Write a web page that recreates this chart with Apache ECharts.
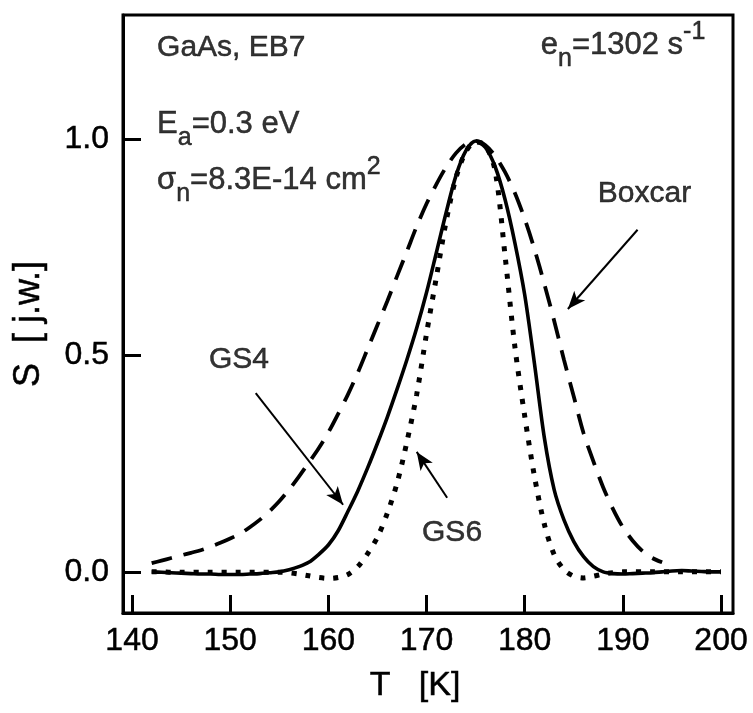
<!DOCTYPE html>
<html>
<head>
<meta charset="utf-8">
<script src="https://cdn.jsdelivr.net/npm/echarts@6/dist/echarts.min.js"></script>
<style>
html,body{margin:0;padding:0;background:#fff;}
#chart{width:753px;height:713px;}
</style>
</head>
<body>
<div id="chart"></div>
<script>
// ---- data ----
const xTicks = [140, 150, 160, 170, 180, 190, 200];
const yTicks = [0, 0.5, 1.0];

const boxcarT = [142,143,144,145,146,147,148,149,150,151,152,153,154,155,156,157,158,159,160,161,162,163,164,165,166,167,168,169,170,171,172,173,174,175,176,177,178,179,180,181,182,183,184,185,186,187,188,189,190,191,192,193,194];
const boxcarS = [0.02,0.026,0.032,0.038,0.044,0.05,0.058,0.067,0.077,0.088,0.103,0.12,0.14,0.163,0.19,0.22,0.252,0.285,0.322,0.365,0.41,0.46,0.515,0.57,0.625,0.683,0.74,0.798,0.85,0.895,0.935,0.967,0.988,0.995,0.985,0.96,0.923,0.875,0.815,0.745,0.665,0.58,0.49,0.405,0.32,0.255,0.195,0.145,0.103,0.072,0.048,0.032,0.022];

const gs4T = [142,143,144,145,146,147,148,149,150,151,152,153,154,155,156,157,158,159,160,161,162,163,164,165,166,167,168,169,170,171,172,173,174,175,176,177,178,179,180,181,182,183,184,185,186,187,188,189,190,191,192,193,194,195,196,197,198,199,200];
const gs4S = [0.0,-0.001,-0.002,-0.003,-0.004,-0.005,-0.005,-0.006,-0.006,-0.006,-0.005,-0.004,-0.002,0.0,0.005,0.012,0.022,0.04,0.062,0.095,0.14,0.187,0.24,0.297,0.357,0.422,0.49,0.563,0.645,0.737,0.83,0.915,0.972,0.995,0.98,0.935,0.86,0.76,0.64,0.48,0.31,0.19,0.12,0.07,0.035,0.012,0.0,-0.004,-0.005,-0.004,-0.003,-0.002,0.0,0.002,0.003,0.002,0.001,0.0,0.0];

const gs6T = [142,143,144,145,146,147,148,149,150,151,152,153,154,155,156,157,158,159,160,161,162,163,164,165,166,167,168,169,170,171,172,173,174,175,176,177,178,179,180,181,182,183,184,185,186,187,188,189,190,191,192,193,194,195,196,197,198,199,200];
const gs6S = [0.0,0.0,-0.001,-0.001,-0.001,-0.001,-0.001,-0.001,-0.001,-0.001,-0.001,-0.001,-0.001,-0.001,-0.002,-0.005,-0.009,-0.013,-0.015,-0.013,-0.006,0.012,0.042,0.08,0.135,0.205,0.3,0.41,0.55,0.68,0.81,0.91,0.97,0.993,0.985,0.925,0.73,0.52,0.36,0.22,0.11,0.04,0.005,-0.01,-0.014,-0.01,-0.005,-0.002,0.0,0.0,0.0,0.0,0.0,0.0,0.0,0.0,0.0,0.0,0.0];

// annotation texts and anchors (data coordinates)
const noteTexts = ['GaAs, EB7', 'en=1302 s-1', 'Ea=0.3 eV', 'σn=8.3E-14 cm2', 'Boxcar', 'GS4', 'GS6'];
const noteAnchors = [[142.55, 1.21], [198.4, 1.215], [142.55, 1.034], [142.55, 0.903], [192.2, 0.873], [150.9, 0.49], [172.6, 0.09]];
const noteAlign = ['left', 'right', 'left', 'left', 'center', 'center', 'center'];

// arrows: [start, tip] in data coordinates
const arrows = [
  [[191.5, 0.79], [184.4, 0.607]],
  [[152.6, 0.413], [161.5, 0.155]],
  [[172.1, 0.171], [169.0, 0.277]]
];

function pairs(t, s) { return t.map((v, i) => [v, s[i]]); }

const FONT = 'Liberation Sans, Arial, sans-serif';
const INK = {color: '#000', textBorderColor: '#000', textBorderWidth: 0.5};
const richText = [
  'GaAs, EB7',
  '{m|e}{s|n}{m|=1302 s}{p|-1}',
  '{m|E}{s|a}{m|=0.3 eV}',
  '{m|σ}{s|n}{m|=8.3E-14 cm}{p|2}',
  'Boxcar',
  'GS4',
  'GS6'
];

const chart = echarts.init(document.getElementById('chart'), null, {renderer: 'canvas'});
const option = {
  animation: false,
  backgroundColor: '#fff',
  grid: {left: 123, right: 20, top: 15, bottom: 100, show: true, borderColor: '#000', borderWidth: 3, backgroundColor: 'transparent'},
  xAxis: {
    type: 'value', min: 139.08, max: 201.22,
    name: 'T   [K]', nameLocation: 'middle', nameGap: 56,
    nameTextStyle: Object.assign({fontSize: 34, fontFamily: FONT, padding: [0, 26, 0, 0]}, INK),
    splitLine: {show: false},
    axisLine: {onZero: false, lineStyle: {color: '#000', width: 3}},
    axisTick: {inside: true, length: 18, lineStyle: {color: '#000', width: 3}, customValues: xTicks},
    axisLabel: Object.assign({customValues: xTicks, fontSize: 32, fontFamily: FONT, margin: 12}, INK)
  },
  yAxis: {
    type: 'value', min: -0.095, max: 1.286,
    name: 'S  [ j.w.]', nameLocation: 'middle', nameGap: 76, nameRotate: 90,
    nameTextStyle: Object.assign({fontSize: 36, fontFamily: FONT, padding: [0, 20, 0, 0]}, INK),
    splitLine: {show: false},
    axisLine: {onZero: false, lineStyle: {color: '#000', width: 3}},
    axisTick: {inside: true, length: 18, lineStyle: {color: '#000', width: 3}, customValues: yTicks},
    axisLabel: Object.assign({customValues: yTicks, fontSize: 32, fontFamily: FONT, margin: 14,
      formatter: v => v.toFixed(1)}, INK)
  },
  series: [
    {
      name: 'Boxcar', type: 'line', data: pairs(boxcarT, boxcarS), showSymbol: false, smooth: 0.3,
      lineStyle: {color: '#000', width: 3.8, type: [21, 12], cap: 'butt'}
    },
    {
      name: 'GS4', type: 'line', data: pairs(gs4T, gs4S), showSymbol: false, smooth: 0.3,
      lineStyle: {color: '#000', width: 3.6, type: 'solid'}
    },
    {
      name: 'GS6', type: 'line', data: pairs(gs6T, gs6S), showSymbol: false, smooth: 0.3,
      lineStyle: {color: '#000', width: 5, type: [5, 9], cap: 'butt'}
    },
    {
      name: 'notes', type: 'scatter', symbolSize: 0, silent: true,
      data: noteAnchors.map((a, i) => ({
        value: a,
        label: Object.assign({
          show: true, position: 'inside', align: noteAlign[i], verticalAlign: 'middle',
          formatter: richText[i],
          fontSize: 30, fontFamily: FONT,
          rich: {
            m: Object.assign({fontSize: 31, fontFamily: FONT, lineHeight: 52}, INK),
            s: Object.assign({fontSize: 25, fontFamily: FONT, lineHeight: 24, verticalAlign: 'bottom'}, INK),
            p: Object.assign({fontSize: 25, fontFamily: FONT, lineHeight: 32, verticalAlign: 'top'}, INK)
          }
        }, INK)
      })),
      markLine: {
        silent: true, symbol: ['none', 'arrow'], symbolSize: [11, 18],
        label: {show: false},
        lineStyle: {color: '#000', width: 2, type: 'solid'},
        emphasis: {disabled: true},
        data: arrows.map(a => [{coord: a[0]}, {coord: a[1]}])
      }
    }
  ]
};
chart.setOption(option);
</script>
</body>
</html>
